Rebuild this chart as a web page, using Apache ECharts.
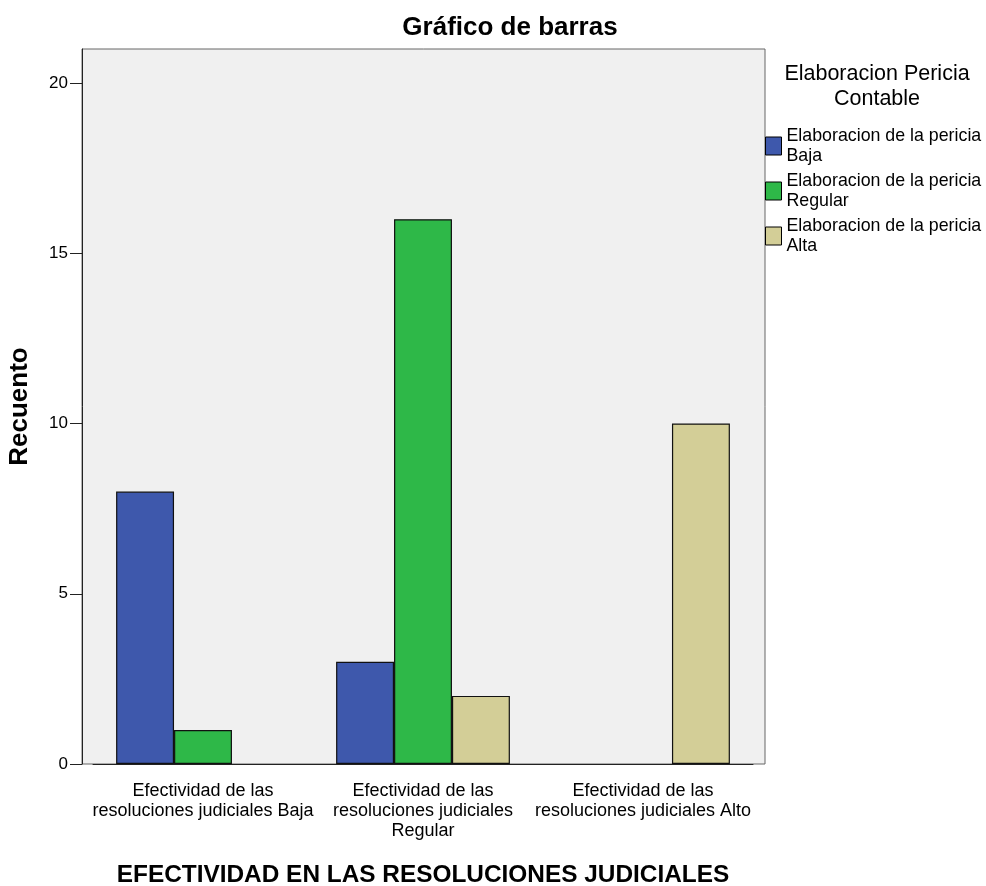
<!DOCTYPE html>
<html>
<head>
<meta charset="utf-8">
<script src="https://cdn.jsdelivr.net/npm/echarts@6/dist/echarts.min.js"></script>
<style>html,body{margin:0;padding:0;background:#fff}#c{width:986px;height:886px}</style>
</head>
<body>
<div id="c"></div>
<script>
const categories = [
  'Efectividad de las\nresoluciones judiciales Baja',
  'Efectividad de las\nresoluciones judiciales\nRegular',
  'Efectividad de las\nresoluciones judiciales Alto'
];
const seriesNames = [
  'Elaboracion de la pericia Baja',
  'Elaboracion de la pericia Regular',
  'Elaboracion de la pericia Alta'
];
const valuesBaja = [8, 3, 0];
const valuesRegular = [1, 16, 0];
const valuesAlta = [0, 2, 10];
const colors = ['#3e58ac', '#2eb848', '#d3ce97'];
const yTicks = [0, 5, 10, 15, 20];

const font = "'Liberation Sans', Arial, sans-serif";
const chart = echarts.init(document.getElementById('c'));
const seriesValues = [valuesBaja, valuesRegular, valuesAlta];

chart.setOption({
  animation: false,
  textStyle: { fontFamily: font },
  title: {
    text: 'Gráfico de barras',
    left: 505, top: 10, textAlign: 'center',
    textStyle: { fontFamily: font, fontSize: 26, fontWeight: 'bold', color: '#000' }
  },
  legend: {
    orient: 'vertical',
    left: 760, top: 121,
    itemWidth: 16, itemHeight: 18, itemGap: 5,
    icon: 'rect',
    data: seriesNames,
    formatter: n => n.replace('pericia ', 'pericia\n'),
    textStyle: { fontFamily: font, fontSize: 17.8, lineHeight: 20, color: '#000' },
    itemStyle: { borderColor: '#000', borderWidth: 1 }
  },
  graphic: [{
    type: 'text', x: 877, y: 62,
    style: { text: 'Elaboracion Pericia\nContable', align: 'center', verticalAlign: 'top',
      font: '21.5px ' + font, lineHeight: 25, fill: '#000' }
  }],
  grid: [
    { left: 82, right: 221, top: 49, bottom: 122, containLabel: false, outerBoundsMode: 'none',
      show: true, backgroundColor: '#f0f0f0', borderColor: '#666', borderWidth: 1 },
    { left: 93, right: 233, top: 49, bottom: 122, containLabel: false, outerBoundsMode: 'none' }
  ],
  xAxis: [
    { gridIndex: 0, type: 'value', show: false, min: 0, max: 1 },
    {
      gridIndex: 1, type: 'category', data: categories,
      name: 'EFECTIVIDAD EN LAS RESOLUCIONES JUDICIALES',
      nameLocation: 'middle', nameGap: 99,
      nameTextStyle: { fontFamily: font, fontSize: 24.4, fontWeight: 'bold', color: '#000' },
      axisLine: { lineStyle: { color: '#222', width: 1 } },
      axisTick: { alignWithLabel: true, length: 9, lineStyle: { color: '#222' } },
      axisLabel: { fontFamily: font, fontSize: 18, lineHeight: 20, color: '#000', margin: 17, interval: 0 }
    }
  ],
  yAxis: [
    { gridIndex: 0, type: 'value', show: false, min: 0, max: 1 },
    {
      gridIndex: 1, type: 'value', min: 0, max: 21, interval: 5, offset: 11,
      name: 'Recuento', nameLocation: 'middle', nameGap: 49, nameRotate: 90,
      nameTextStyle: { fontFamily: font, fontSize: 26, fontWeight: 'bold', color: '#000' },
      axisLine: { show: true, lineStyle: { color: '#222', width: 1 } },
      axisTick: { show: true, length: 12, customValues: yTicks, lineStyle: { color: '#222' } },
      splitLine: { show: false },
      axisLabel: { fontFamily: font, fontSize: 17, color: '#000', margin: 14, customValues: yTicks }
    }
  ],
  series: seriesNames.map((n, i) => ({
    name: n, type: 'bar', xAxisIndex: 1, yAxisIndex: 1,
    data: seriesValues[i].map(v => v === 0 ? null : v),
    barGap: '0%', barCategoryGap: '21%',
    itemStyle: { color: colors[i], borderColor: '#111', borderWidth: 1.2 }
  }))
});
</script>
</body>
</html>
